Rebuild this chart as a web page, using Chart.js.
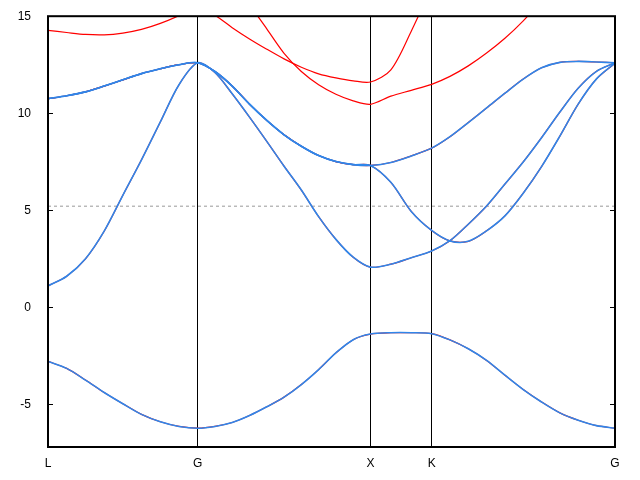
<!DOCTYPE html>
<html>
<head>
<meta charset="utf-8">
<script src="https://cdn.jsdelivr.net/npm/chart.js@4"></script>
<style>
  html, body { margin: 0; padding: 0; background: #fff; }
  canvas { display: block; }
</style>
</head>
<body>
<canvas id="chart" width="640" height="480"></canvas>
<script>
// high symmetry points along the path
const kLabels = ["L", "G", "X", "K", "G"];
const kTicks = [0, 0.866, 1.866, 2.220, 3.281];

// k-path sample positions (L-G, G-X, X-K, K-G)
const kPath = [0, 0.108, 0.217, 0.325, 0.433, 0.541, 0.650, 0.758, 0.866,
  0.966, 1.066, 1.166, 1.266, 1.366, 1.466, 1.566, 1.666, 1.766, 1.866,
  1.984, 2.102, 2.220,
  2.326, 2.432, 2.538, 2.644, 2.750, 2.856, 2.962, 3.068, 3.174, 3.281];

const band1 = [-2.79, -3.15, -3.75, -4.39, -4.97, -5.52, -5.90, -6.14, -6.23,
  -6.14, -5.94, -5.58, -5.13, -4.63, -3.98, -3.21, -2.35, -1.67, -1.38,
  -1.31, -1.31, -1.36,
  -1.68, -2.14, -2.74, -3.50, -4.24, -4.88, -5.44, -5.82, -6.10, -6.23];

const band2 = [1.10, 1.60, 2.50, 3.92, 5.77, 7.60, 9.55, 11.47, 12.60,
  12.10, 11.00, 9.80, 8.55, 7.27, 6.04, 4.67, 3.50, 2.58, 2.07,
  2.22, 2.55, 2.90,
  3.43, 4.28, 5.22, 6.35, 7.49, 8.74, 10.06, 11.29, 12.16, 12.60];

const band3 = [10.75, 10.90, 11.10, 11.40, 11.72, 12.04, 12.29, 12.50, 12.60,
  12.15, 11.40, 10.47, 9.63, 8.89, 8.30, 7.82, 7.51, 7.35, 7.31,
  6.44, 4.94, 3.96,
  3.42, 3.40, 3.94, 4.71, 5.88, 7.25, 8.82, 10.47, 11.77, 12.58];

const band4 = [10.75, 10.90, 11.10, 11.40, 11.72, 12.04, 12.29, 12.50, 12.60,
  12.15, 11.40, 10.47, 9.63, 8.89, 8.30, 7.82, 7.51, 7.35, 7.31,
  7.46, 7.80, 8.20,
  8.79, 9.52, 10.27, 11.03, 11.76, 12.34, 12.62, 12.67, 12.64, 12.60];

// upper bands, only in the red calculation
const band5 = [14.27, 14.16, 14.06, 14.04, 14.13, 14.32, 14.63, 15.03, 15.50,
  15.05, 14.41, 13.83, 13.30, 12.80, 12.37, 12.03, 11.82, 11.67, 11.61,
  12.24, 14.23, 16.50,
  null, null, null, null, null, null, null, null, null, null];

const band6 = [null, null, null, null, null, null, null, null, null,
  null, 16.90, 15.60, 14.35, 13.09, 12.15, 11.47, 10.98, 10.64, 10.46,
  10.88, 11.18, 11.49,
  11.90, 12.44, 13.10, 13.86, 14.76, 15.80, null, null, null, null];

const fermi = 5.21;

const redBands = [band1, band2, band3, band4, band5, band6];
const blueBands = [band1, band2, band3, band4];

const FONT = { family: "'Liberation Sans', Arial, sans-serif", size: 12 };

function toPoints(band) {
  return kPath.map((k, i) => ({ x: k, y: band[i] }));
}

const datasets = [];

blueBands.forEach((b) => {
  datasets.push({
    data: toPoints(b),
    borderColor: "#2f86ea",
    borderWidth: 1.6,
    tension: 0.3,
    order: 0,
  });
});

redBands.forEach((b) => {
  datasets.push({
    data: toPoints(b),
    borderColor: "#ff0000",
    borderWidth: 1.2,
    tension: 0.3,
    order: 1,
  });
});

datasets.push({
  data: [{ x: kTicks[0], y: fermi }, { x: kTicks[kTicks.length - 1], y: fermi }],
  borderColor: "#999999",
  borderWidth: 1,
  borderDash: [3, 3],
  order: 2,
});

// frame and inward ticks like the original plot
const framePlugin = {
  id: "frame",
  afterDatasetsDraw(chart) {
    const { ctx, chartArea: a, scales } = chart;
    const y = scales.y;
    ctx.save();
    ctx.strokeStyle = "#000";
    ctx.lineWidth = 1;
    ctx.beginPath();
    y.ticks.forEach((t) => {
      const py = Math.round(y.getPixelForValue(t.value)) + 0.5;
      ctx.moveTo(a.left, py);
      ctx.lineTo(a.left + 5, py);
      ctx.moveTo(a.right - 5, py);
      ctx.lineTo(a.right, py);
    });
    ctx.stroke();
    ctx.lineWidth = 2;
    ctx.strokeRect(a.left, a.top, a.right - a.left, a.bottom - a.top);
    ctx.restore();
  },
};

const ctx = document.getElementById("chart").getContext("2d");

const chart = new Chart(ctx, {
  type: "line",
  data: { datasets },
  options: {
    responsive: false,
    animation: false,
    layout: { padding: { top: 15, right: 25, left: 0, bottom: 0 } },
    plugins: { legend: { display: false }, tooltip: { enabled: false } },
    elements: { point: { radius: 0 } },
    scales: {
      x: {
        type: "linear",
        min: kTicks[0],
        max: kTicks[kTicks.length - 1],
        afterBuildTicks: (s) => {
          s.ticks = kTicks.map((v) => ({ value: v }));
        },
        afterFit: (s) => {
          s.height = 33;
        },
        ticks: {
          autoSkip: false,
          maxRotation: 0,
          padding: 9,
          color: "#000",
          font: FONT,
          callback: (v, i) => kLabels[i],
        },
        grid: { color: "#000", lineWidth: 1, drawTicks: false },
        border: { display: false },
      },
      y: {
        min: -7.2,
        max: 15,
        afterFit: (s) => {
          s.width = 48;
        },
        ticks: {
          stepSize: 5,
          includeBounds: false,
          padding: 9,
          color: "#000",
          font: FONT,
        },
        grid: { display: false },
        border: { display: false },
      },
    },
  },
  plugins: [framePlugin],
});
</script>
</body>
</html>
